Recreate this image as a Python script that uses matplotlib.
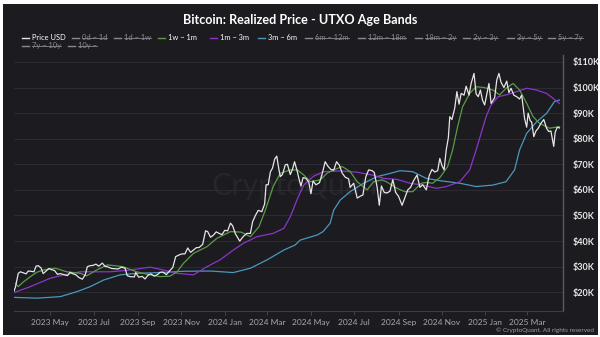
import matplotlib
matplotlib.use("Agg")
import matplotlib.pyplot as plt
from matplotlib.patches import Rectangle
from matplotlib.lines import Line2D
import pandas as pd

# ---------------- data (values in thousands of USD) ----------------
price_dates = [
    "2023-03-11","2023-03-13","2023-03-15","2023-03-17","2023-03-20","2023-03-24","2023-03-28","2023-03-31",
    "2023-04-04","2023-04-08","2023-04-11","2023-04-14","2023-04-18","2023-04-21","2023-04-25","2023-04-29",
    "2023-05-03","2023-05-07","2023-05-11","2023-05-15","2023-05-20","2023-05-25","2023-05-29","2023-06-02",
    "2023-06-06","2023-06-10","2023-06-15","2023-06-19","2023-06-22","2023-06-26","2023-06-30","2023-07-04",
    "2023-07-08","2023-07-13","2023-07-17","2023-07-21","2023-07-26","2023-07-31","2023-08-04","2023-08-09",
    "2023-08-14","2023-08-17","2023-08-21","2023-08-27","2023-08-29","2023-09-02","2023-09-07","2023-09-11",
    "2023-09-15","2023-09-19","2023-09-24","2023-09-29","2023-10-02","2023-10-06","2023-10-11","2023-10-16",
    "2023-10-20","2023-10-24","2023-10-28","2023-11-02","2023-11-06","2023-11-10","2023-11-14","2023-11-18",
    "2023-11-22","2023-11-26","2023-12-01","2023-12-05","2023-12-08","2023-12-12","2023-12-16","2023-12-20",
    "2023-12-24","2023-12-28","2024-01-01","2024-01-05","2024-01-09","2024-01-12","2024-01-16","2024-01-22",
    "2024-01-27","2024-02-01","2024-02-06","2024-02-09","2024-02-13","2024-02-17","2024-02-22","2024-02-26",
    "2024-02-28","2024-03-02","2024-03-05","2024-03-08","2024-03-11","2024-03-14","2024-03-17","2024-03-19",
    "2024-03-22","2024-03-26","2024-03-29","2024-04-02","2024-04-05","2024-04-08","2024-04-12","2024-04-14",
    "2024-04-17","2024-04-20","2024-04-24","2024-04-28","2024-05-01","2024-05-04","2024-05-08","2024-05-13",
    "2024-05-17","2024-05-21","2024-05-25","2024-05-29","2024-06-02","2024-06-06","2024-06-10","2024-06-14",
    "2024-06-18","2024-06-23","2024-06-25","2024-06-30","2024-07-05","2024-07-09","2024-07-13","2024-07-17",
    "2024-07-21","2024-07-26","2024-07-29","2024-08-02","2024-08-05","2024-08-08","2024-08-12","2024-08-16",
    "2024-08-20","2024-08-24","2024-08-28","2024-09-01","2024-09-06","2024-09-10","2024-09-14","2024-09-18",
    "2024-09-22","2024-09-27","2024-10-01","2024-10-05","2024-10-10","2024-10-14","2024-10-18","2024-10-22",
    "2024-10-26","2024-10-29","2024-11-01","2024-11-04","2024-11-07","2024-11-10","2024-11-12","2024-11-15",
    "2024-11-19","2024-11-22","2024-11-25","2024-11-28","2024-12-02","2024-12-05","2024-12-09","2024-12-12",
    "2024-12-16","2024-12-19","2024-12-22","2024-12-25","2024-12-28","2024-12-31","2025-01-03","2025-01-06",
    "2025-01-09","2025-01-14","2025-01-17","2025-01-20","2025-01-23","2025-01-27","2025-01-31","2025-02-03",
    "2025-02-06","2025-02-10","2025-02-14","2025-02-18","2025-02-21","2025-02-25","2025-02-28","2025-03-02",
    "2025-03-05","2025-03-07","2025-03-10","2025-03-13","2025-03-16","2025-03-20","2025-03-24","2025-03-28",
    "2025-03-31","2025-04-03","2025-04-07","2025-04-09","2025-04-12","2025-04-15",
]
price_usd = [
    20.5, 22.0, 24.8, 27.4, 28.0, 27.6, 27.2, 28.3,
    28.2, 28.0, 30.2, 30.4, 29.5, 27.3, 28.3, 29.3,
    28.8, 28.5, 27.0, 27.3, 26.9, 26.5, 27.8, 27.2,
    26.8, 25.8, 25.1, 26.8, 30.0, 30.4, 30.5, 31.0,
    30.2, 31.4, 30.1, 29.9, 29.3, 29.2, 29.1, 29.8,
    29.4, 26.5, 26.1, 26.0, 27.7, 25.9, 26.2, 25.2,
    26.6, 27.2, 26.3, 27.0, 27.8, 27.9, 26.9, 28.5,
    29.7, 33.9, 34.5, 35.0, 35.0, 37.3, 35.6, 36.5,
    37.4, 37.5, 38.7, 44.0, 43.7, 41.5, 42.3, 43.6,
    43.0, 42.5, 44.2, 44.0, 47.0, 46.0, 42.8, 40.0,
    41.8, 43.0, 43.0, 47.5, 50.0, 52.0, 51.5, 54.5,
    62.0, 62.0, 67.0, 68.5, 72.0, 73.2, 68.0, 65.2,
    66.0, 69.8, 70.0, 66.0, 68.0, 71.0, 67.0, 64.6,
    61.5, 64.8, 64.5, 63.0, 58.5, 63.5, 62.0, 62.8,
    66.5, 71.0, 69.2, 68.0, 67.7, 71.0, 69.6, 66.5,
    65.0, 64.3, 61.0, 62.6, 56.8, 57.5, 58.0, 65.0,
    67.8, 67.5, 66.8, 61.0, 54.0, 61.5, 59.0, 58.8,
    59.5, 64.0, 59.0, 57.5, 54.0, 57.0, 60.0, 61.0,
    63.5, 65.8, 61.0, 62.0, 60.0, 65.5, 68.0, 67.0,
    67.5, 72.3, 69.5, 67.8, 75.6, 80.4, 88.6, 87.5,
    92.0, 98.4, 93.5, 97.7, 97.0, 100.5, 97.0, 101.6,
    105.5, 97.5, 96.4, 99.0, 95.0, 93.2, 97.5, 101.6,
    93.8, 96.0, 102.9, 105.5, 102.0, 100.0, 102.5, 98.0,
    99.7, 97.0, 96.4, 95.5, 97.0, 88.0, 84.5, 90.0,
    87.0, 86.5, 80.8, 83.0, 84.0, 86.0, 87.5, 84.0,
    82.8, 83.0, 77.0, 82.5, 84.5, 84.2,
]

band_1w_1m_dates = [
    "2023-03-13","2023-03-17","2023-03-24","2023-04-03","2023-04-12","2023-04-21","2023-05-08","2023-05-24",
    "2023-06-12","2023-06-21","2023-07-05","2023-07-20","2023-08-11","2023-08-30","2023-09-18","2023-10-02",
    "2023-10-16","2023-10-26","2023-11-04","2023-11-18","2023-12-07","2023-12-21","2024-01-09","2024-01-24",
    "2024-02-06","2024-02-18","2024-02-27","2024-03-09","2024-03-19","2024-04-02","2024-04-12","2024-04-21",
    "2024-04-30","2024-05-14","2024-05-24","2024-06-02","2024-06-14","2024-06-25","2024-07-05","2024-07-19",
    "2024-07-28","2024-08-09","2024-08-16","2024-08-30","2024-09-10","2024-09-21","2024-10-03","2024-10-10",
    "2024-10-19","2024-10-29","2024-11-09","2024-11-16","2024-11-23","2024-11-30","2024-12-10","2024-12-19",
    "2024-12-30","2025-01-12","2025-01-21","2025-01-30","2025-02-09","2025-02-18","2025-02-28","2025-03-09",
    "2025-03-18","2025-04-01","2025-04-15",
]
band_1w_1m = [
    23.5, 22.2, 24.0, 26.1, 27.8, 28.7, 29.4, 28.0,
    27.4, 26.4, 28.7, 30.7, 30.0, 28.0, 26.8, 26.1,
    26.3, 28.0, 31.3, 35.2, 37.8, 41.1, 43.7, 43.5,
    41.7, 45.6, 52.1, 61.3, 66.5, 67.8, 67.8, 65.8,
    63.2, 63.9, 66.6, 67.8, 69.1, 67.2, 63.2, 60.0,
    63.2, 63.9, 63.0, 60.6, 59.3, 59.3, 62.6, 62.9,
    62.6, 64.8, 69.1, 75.6, 84.7, 92.5, 97.7, 100.3,
    100.0, 99.0, 97.1, 99.7, 101.6, 99.0, 93.8, 88.6,
    86.0, 84.1, 84.7,
]

band_1m_3m_dates = [
    "2023-03-11","2023-04-03","2023-05-01","2023-05-20","2023-06-12","2023-07-24","2023-08-21","2023-09-18",
    "2023-10-07","2023-10-26","2023-11-18","2023-12-07","2023-12-25","2024-01-13","2024-01-27","2024-02-15",
    "2024-03-09","2024-03-24","2024-04-02","2024-04-12","2024-04-21","2024-05-04","2024-05-18","2024-06-11",
    "2024-07-05","2024-07-26","2024-08-11","2024-08-30","2024-09-17","2024-10-05","2024-10-24","2024-11-07",
    "2024-11-26","2024-12-10","2024-12-19","2024-12-26","2025-01-02","2025-01-09","2025-01-19","2025-01-30",
    "2025-02-14","2025-02-28","2025-03-14","2025-03-28","2025-04-15",
]
band_1m_3m = [
    19.9, 22.2, 25.5, 26.8, 28.0, 28.0, 28.7, 29.8,
    28.7, 27.4, 26.8, 30.0, 32.6, 36.5, 39.1, 41.7,
    43.0, 45.0, 49.5, 56.5, 61.9, 65.2, 67.1, 67.4,
    66.9, 65.8, 64.5, 64.1, 62.6, 61.9, 60.6, 61.3,
    63.2, 67.8, 75.6, 82.1, 88.6, 93.2, 96.4, 97.1,
    98.4, 99.7, 99.0, 97.7, 93.8,
]

band_3m_6m_dates = [
    "2023-03-11","2023-04-13","2023-05-15","2023-06-07","2023-06-26","2023-07-15","2023-08-07","2023-08-30",
    "2023-10-02","2023-11-04","2023-12-12","2024-01-13","2024-02-06","2024-02-29","2024-03-24","2024-04-09",
    "2024-04-16","2024-05-10","2024-05-18","2024-05-28","2024-06-02","2024-06-11","2024-06-25","2024-07-14",
    "2024-08-02","2024-08-21","2024-09-03","2024-09-21","2024-10-10","2024-10-29","2024-11-26","2024-12-19",
    "2025-01-12","2025-01-30","2025-02-11","2025-02-18","2025-02-28","2025-03-14","2025-03-28","2025-04-08",
    "2025-04-15",
]
band_3m_6m = [
    18.0, 17.7, 18.3, 20.2, 22.2, 24.8, 26.8, 27.4,
    27.7, 28.2, 28.3, 27.7, 29.4, 32.6, 36.5, 38.5,
    40.4, 42.4, 43.7, 47.0, 52.1, 56.0, 59.3, 62.6,
    65.2, 66.5, 67.5, 67.1, 64.5, 63.6, 62.6, 61.3,
    61.9, 63.2, 67.8, 75.6, 82.1, 86.6, 89.9, 94.5,
    95.1,
]

legend_labels = ["Price USD", "0d ~ 1d", "1d ~ 1w", "1w ~ 1m", "1m ~ 3m", "3m ~ 6m",
                 "6m ~ 12m", "12m ~ 18m", "18m ~ 2y", "2y ~ 3y", "3y ~ 5y", "5y ~ 7y",
                 "7y ~ 10y", "10y ~"]
y_ticks = [20, 30, 40, 50, 60, 70, 80, 90, 100, 110]
x_ticks = ["2023-05-01", "2023-07-01", "2023-09-01", "2023-11-01", "2024-01-01", "2024-03-01",
           "2024-05-01", "2024-07-01", "2024-09-01", "2024-11-01", "2025-01-01", "2025-03-01"]
x_tick_labels = ["2023 May", "2023 Jul", "2023 Sep", "2023 Nov", "2024 Jan", "2024 Mar",
                 "2024 May", "2024 Jul", "2024 Sep", "2024 Nov", "2025 Jan", "2025 Mar"]

# ---------------- styling ----------------
BG = "#1b1b20"
GRID = "#2b2b31"
C_PRICE = "#e6e6e6"
C_GREEN = "#5b9a45"
C_PURPLE = "#8d35c9"
C_BLUE = "#4b98bd"
C_OFF = "#8a8a8e"

plt.rcParams["font.family"] = ["Lato", "DejaVu Sans"]

W, H = 600, 337
fig = plt.figure(figsize=(W / 100, H / 100), dpi=100, facecolor="white")
fig.patches.append(Rectangle((3 / W, 2 / H), 595 / W, 331 / H, transform=fig.transFigure,
                             facecolor=BG, edgecolor="none", zorder=-5))

def fx(px):
    return px / W

def fy(py):
    return 1 - py / H

left, right, top, bottom = 14, 563, 55, 310.7
ax = fig.add_axes([fx(left), fy(bottom), (right - left) / W, (bottom - top) / H])
ax.set_facecolor("none")
ax.set_zorder(2)

ax.plot(pd.to_datetime(band_3m_6m_dates), band_3m_6m, color=C_BLUE, lw=0.9, zorder=3)
ax.plot(pd.to_datetime(band_1m_3m_dates), band_1m_3m, color=C_PURPLE, lw=0.9, zorder=3)
ax.plot(pd.to_datetime(band_1w_1m_dates), band_1w_1m, color=C_GREEN, lw=0.9, zorder=4)
ax.plot(pd.to_datetime(price_dates), price_usd, color=C_PRICE, lw=0.9, zorder=5)

ax.set_xlim(pd.Timestamp("2023-03-11"), pd.Timestamp("2025-04-20"))
ax.set_ylim(12.8, 112.7)

ax.yaxis.tick_right()
ax.set_yticks(y_ticks)
ax.set_yticklabels([f"${v}K" for v in y_ticks])
ax.tick_params(axis="y", length=0, pad=7, labelsize=6.5, labelcolor="#e8e8e8")
for lab in ax.get_yticklabels():
    lab.set_fontweight("bold")
ax.set_xticks(pd.to_datetime(x_ticks))
ax.set_xticklabels(x_tick_labels)
ax.tick_params(axis="x", length=3, width=0.6, color="#4a4a50", pad=3, labelsize=6, labelcolor="#a8a8ac")
ax.grid(axis="y", color=GRID, lw=0.8)
ax.set_axisbelow(True)
for s in ["left", "top"]:
    ax.spines[s].set_visible(False)
ax.spines["right"].set_color("#5a5a60")
ax.spines["right"].set_linewidth(1.0)
ax.spines["bottom"].set_color("#3c3c42")
ax.spines["bottom"].set_linewidth(0.8)

# watermark (behind the lines)
fig.text(fx(300), fy(186), "CryptoQuant", color="#26262c", fontsize=22, ha="center", va="center", zorder=1)

# title
fig.text(fx(300), fy(20), "Bitcoin: Realized Price - UTXO Age Bands", color="white",
         fontsize=9.1, fontweight="bold", ha="center", va="center")

# legend (manual)
legend_x = [22, 72, 114, 158, 210, 258, 305, 358, 415, 463, 507, 548, 22, 68]
legend_row = [37.5] * 12 + [45.5] * 2
active = {"Price USD": C_PRICE, "1w ~ 1m": C_GREEN, "1m ~ 3m": C_PURPLE, "3m ~ 6m": C_BLUE}
texts = []
for lab, x0, yy in zip(legend_labels, legend_x, legend_row):
    on = lab in active
    col = active.get(lab, C_OFF)
    fig.lines.append(Line2D([fx(x0), fx(x0 + 7)], [fy(yy), fy(yy)], transform=fig.transFigure,
                            color=col, lw=1.0))
    t = fig.text(fx(x0 + 10), fy(yy), lab, color=("white" if on else C_OFF), fontsize=5.4,
                 ha="left", va="center")
    texts.append((t, on, yy))

fig.canvas.draw()
r = fig.canvas.get_renderer()
for t, on, yy in texts:
    if not on:
        bb = t.get_window_extent(renderer=r)
        fig.lines.append(Line2D([bb.x0 / W, bb.x1 / W], [fy(yy), fy(yy)], transform=fig.transFigure,
                                color=C_OFF, lw=0.6))

fig.text(fx(594), fy(330), "\u00a9 CryptoQuant. All rights reserved", color="#a0a0a4",
         fontsize=4.6, ha="right", va="center")

fig.savefig("out.png", dpi=100, facecolor="white")
